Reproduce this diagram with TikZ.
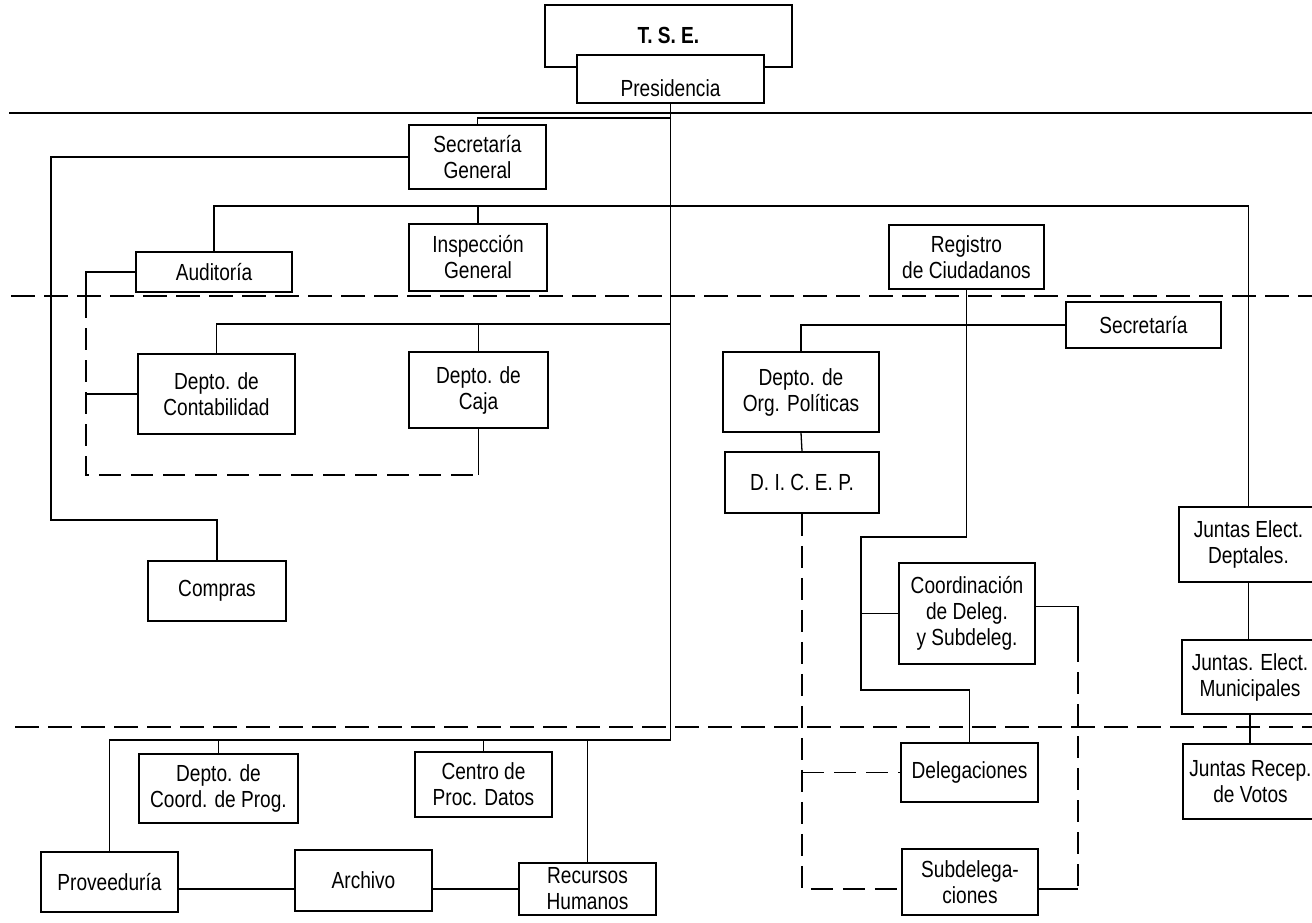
\documentclass[tikz,border=0pt]{standalone}
\usepackage{fontspec}
\setmainfont{Liberation Sans}[FakeStretch=0.82]
\newcommand\orgfont{\fontsize{23.3pt}{26pt}\selectfont}
\begin{document}
\begin{tikzpicture}[x=1pt,y=-1pt,
  box/.style={draw, line width=1.6pt, fill=white, inner sep=0pt, align=center, font=\orgfont},
  conn/.style={line width=1.3pt},
  dconn/.style={line width=1.7pt, dash pattern=on 22pt off 10pt},
  sepline/.style={line width=1.8pt},
  dsep/.style={line width=1.8pt, dash pattern=on 24pt off 9pt}]
\path[use as bounding box] (0,0) rectangle (1312,922);
\clip (0,0) rectangle (1312,922);

% nodes
\node[box, minimum width=247pt, minimum height=62pt, text height=16pt, text depth=2pt] (tse) at (668.5,36) {\bfseries T. S. E.};
\node[box, minimum width=187pt, minimum height=48pt, text height=39pt, text depth=5pt] (pres) at (670.5,79) {Presidencia};
\node[box, minimum width=137pt, minimum height=64pt] (secgen) at (477.5,157) {Secretaría\\General};
\node[box, minimum width=138pt, minimum height=67pt] (inspeccion) at (478,257.5) {Inspección\\General};
\node[box, minimum width=156pt, minimum height=40pt] (auditoria) at (214,272) {Auditoría};
\node[box, minimum width=155pt, minimum height=64pt] (registro) at (966.5,257) {Registro\\de Ciudadanos};
\node[box, minimum width=157pt, minimum height=80pt] (contab) at (216.5,394) {Depto. de\\Contabilidad};
\node[box, minimum width=139pt, minimum height=76pt] (caja) at (478.5,390) {Depto. de\\Caja};
\node[box, minimum width=155pt, minimum height=46pt] (secretaria) at (1143.5,325) {Secretaría};
\node[box, minimum width=156pt, minimum height=80pt] (orgpol) at (801,392) {Depto. de\\Org. Políticas};
\node[box, minimum width=154pt, minimum height=61pt] (dicep) at (802,482.5) {D. I. C. E. P.};
\node[box, minimum width=138pt, minimum height=60pt] (compras) at (217,591) {Compras};
\node[box, minimum width=136pt, minimum height=101pt] (coordinacion) at (967,613.5) {Coordinación\\de Deleg.\\y Subdeleg.};
\node[box, minimum width=139pt, minimum height=75pt] (deptales) at (1248.5,544.5) {Juntas Elect.\\Deptales.};
\node[box, minimum width=136pt, minimum height=74pt] (municipales) at (1250,677) {Juntas. Elect.\\Municipales};
\node[box, minimum width=135pt, minimum height=75pt] (recep) at (1250.5,781.5) {Juntas Recep.\\de Votos};
\node[box, minimum width=137pt, minimum height=59pt] (delegaciones) at (969.5,772.5) {Delegaciones};
\node[box, minimum width=136pt, minimum height=66pt] (subdel) at (970,882) {Subdelega-\\ciones};
\node[box, minimum width=159pt, minimum height=69pt] (coordprog) at (218.5,788.5) {Depto. de\\Coord. de Prog.};
\node[box, minimum width=137pt, minimum height=65pt] (centro) at (483.5,784.5) {Centro de\\Proc. Datos};
\node[box, minimum width=137pt, minimum height=60pt] (prov) at (109.5,882) {Proveeduría};
\node[box, minimum width=137pt, minimum height=61pt] (archivo) at (363.5,880.5) {Archivo};
\node[box, minimum width=137pt, minimum height=52pt] (recursos) at (587.5,889) {Recursos\\Humanos};

% separator lines
\draw[sepline] (9,113) -- (1312,113);
\draw[dsep] (11,296) -- (1312,296);
\draw[dsep] (15,727) -- (1312,727);

% junction coordinates
\coordinate (j118) at (671,118);
\coordinate (j324) at (671,324);
\coordinate (vbot) at (671,740);
\coordinate (r206) at (1248.5,206);
\coordinate (c51) at (51,520);
\coordinate (dl) at (86,296);
\coordinate (dbr) at (478.5,475);
\coordinate (ra) at (861,537);
\coordinate (rb) at (861,690);
\coordinate (cq) at (1078,640);
\coordinate (cr) at (1078,889);
\coordinate (cb) at (802,889);

% connectors
\draw[conn] (pres.south) |- (prov.north |- vbot) -- (prov.north);
\draw[conn] (j118) -| (secgen.north);
\draw[conn] (secgen.west) -| (c51) -| (compras.north);
\draw[conn] (auditoria.north) |- (r206) -- (deptales.north);
\draw[conn] (inspeccion.north) -- (inspeccion.north |- r206);
\draw[conn] (auditoria.west) -| (dl);
\draw[dconn] (dl) |- (dbr);
\draw[conn] (caja.south) -- (dbr);
\draw[conn] (contab.west) -- (contab.west -| dl);
\draw[conn] (contab.north) |- (j324);
\draw[conn] (caja.north) -- (caja.north |- j324);
\draw[conn] (coordprog.north) -- (coordprog.north |- vbot);
\draw[conn] (centro.north) -- (centro.north |- vbot);
\draw[conn] (recursos.north) -- (recursos.north |- vbot);
\draw[conn] ([yshift=-7pt]prov.east) -- ([yshift=-7pt]prov.east -| archivo.west);
\draw[conn] (recursos.west) -- (recursos.west -| archivo.east);
\draw[conn] (orgpol.north) |- (secretaria.west);
\draw[conn] (orgpol.south) -- (dicep.north);
\draw[conn] (registro.south) |- (ra) -- (rb) -| (delegaciones.north);
\draw[conn] (coordinacion.west) -- (coordinacion.west -| ra);
\draw[conn] ([yshift=7pt]coordinacion.east) -| (cq);
\draw[dconn] (cq) -- (cr);
\draw[conn] (cr) -- (cr -| subdel.east);
\draw[dconn] (dicep.south) -- (cb) -- (cb -| subdel.west);
\draw[dconn] (delegaciones.west -| cb) -- (delegaciones.west);
\draw[conn] (deptales.south) -- (deptales.south |- municipales.north);
\draw[conn] (municipales.south) -- (municipales.south |- recep.north);
\end{tikzpicture}
\end{document}
